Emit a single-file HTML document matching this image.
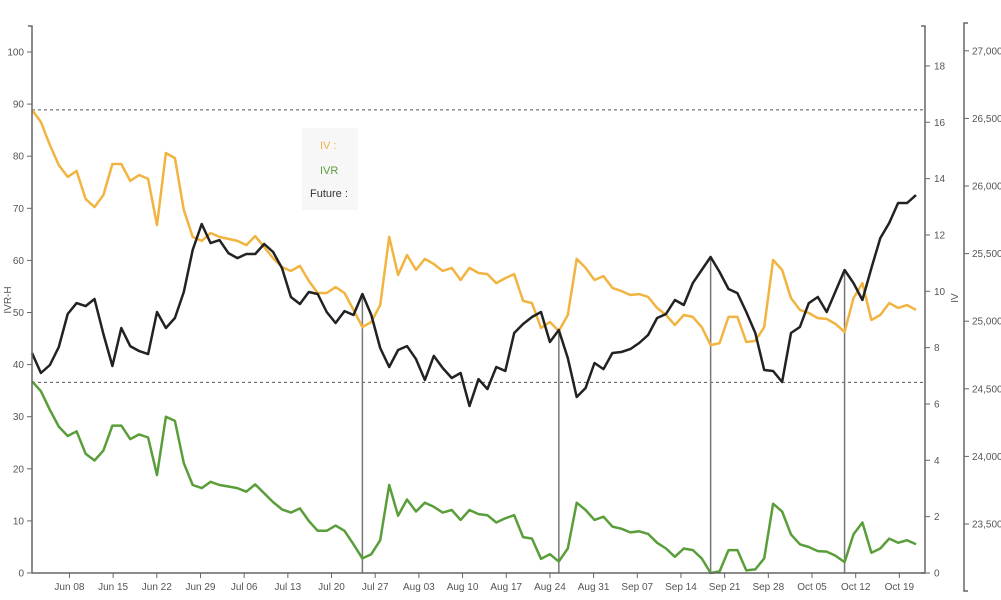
<!DOCTYPE html>
<html><head><meta charset="utf-8">
<style>
html,body{margin:0;padding:0;background:#fff;}
svg{display:block;font-family:"Liberation Sans",sans-serif;}
.tk{font-size:10px;fill:#555;}
</style></head>
<body>
<svg id="chart" width="1001" height="600" viewBox="0 0 1001 600">
<g id="grid"></g>
<g id="series"></g>
<g id="axes"></g>
<g>
<rect x="302" y="128" width="56" height="82" fill="#f7f7f7"/>
<text x="320" y="149" font-size="11" fill="#f0b040">IV :</text>
<text x="320" y="174" font-size="11" fill="#5a9e3a">IVR</text>
<text x="310" y="197" font-size="11" fill="#333">Future :</text>
</g>
<text class="tk" transform="translate(11,300) rotate(-90)" text-anchor="middle" font-size="11">IVR-H</text>
<text class="tk" transform="translate(958,298) rotate(-90)" text-anchor="middle" font-size="11">IV</text>
</svg>
<script>
const ivValues=[16.44,16.01,15.19,14.48,14.06,14.27,13.28,12.99,13.42,14.52,14.52,13.92,14.13,13.99,12.35,14.91,14.73,12.89,11.93,11.79,12.07,11.93,11.86,11.79,11.64,11.96,11.57,11.18,10.86,10.72,10.90,10.37,9.94,9.94,
10.15,9.94,9.34,8.73,8.91,9.51,11.93,10.58,11.29,10.76,11.15,10.97,10.72,10.83,10.40,10.83,10.65,10.61,10.29,10.47,10.61,9.66,9.58,8.70,8.91,8.59,9.16,11.15,10.83,10.40,10.54,10.12,10.01,
9.87,9.90,9.80,9.41,9.16,8.80,9.16,9.09,8.73,8.09,8.16,9.09,9.09,8.20,8.24,8.73,11.11,10.76,9.76,9.34,9.23,9.05,9.02,8.84,8.56,9.76,10.29,8.98,9.16,9.58,9.41,9.51,9.34];
const ivrValues=[36.8,34.9,31.3,28.1,26.3,27.2,22.9,21.6,23.5,28.3,28.3,25.7,26.6,26.0,18.8,30.0,29.2,21.1,16.9,16.3,17.5,16.9,16.6,16.3,15.6,17.0,15.3,13.6,12.2,11.6,12.4,10.0,8.1,8.1,
9.1,8.1,5.5,2.8,3.6,6.3,16.9,11.0,14.1,11.8,13.5,12.7,11.6,12.1,10.2,12.1,11.3,11.1,9.7,10.5,11.1,6.9,6.6,2.7,3.6,2.2,4.7,13.5,12.1,10.2,10.8,8.9,8.5,
7.8,8.0,7.5,5.8,4.7,3.1,4.7,4.4,2.8,0,0.3,4.4,4.4,0.5,0.7,2.8,13.3,11.8,7.4,5.5,5.0,4.2,4.1,3.3,2.1,7.4,9.7,3.9,4.7,6.6,5.8,6.3,5.5];
const futureValues=[24765,24617,24676,24809,25053,25134,25112,25164,24905,24669,24950,24816,24779,24757,25068,24950,25024,25216,25527,25719,25578,25600,25504,25467,25497,25497,25571,25512,25393,25179,25127,25216,25201,25068,
24987,25075,25046,25201,25046,24802,24661,24787,24816,24720,24565,24743,24654,24580,24617,24373,24572,24498,24661,24632,24913,24979,25031,25068,24846,24935,24728,24439,24506,24691,24646,24765,24772,
24794,24839,24898,25024,25053,25157,25120,25282,25379,25475,25364,25238,25208,25068,24913,24639,24632,24550,24913,24957,25134,25179,25068,25223,25379,25282,25157,25393,25615,25726,25874,25874,25933];
const expiryIndices=[37,59,76,91];
const refLevels=[88.9,36.6];
const xTickLabels=["Jun 08","Jun 15","Jun 22","Jun 29","Jul 06","Jul 13","Jul 20","Jul 27","Aug 03","Aug 10","Aug 17","Aug 24","Aug 31","Sep 07","Sep 14","Sep 21","Sep 28","Oct 05","Oct 12","Oct 19"];
const xTickDays=[6,13,20,27,34,41,48,55,62,69,76,83,90,97,104,111,118,125,132,139];
const leftTicks=[0,10,20,30,40,50,60,70,80,90,100];
const ivTicks=[0,2,4,6,8,10,12,14,16,18];
const futTicks=[23500,24000,24500,25000,25500,26000,26500,27000];

const NS="http://www.w3.org/2000/svg";
const X0=32,X1=916,Y0=573;
const xi=i=>X0+i*(X1-X0)/(ivValues.length-1);
const xd=d=>X0+d*6.24;
const yL=v=>Y0-v*5.21;
const yIV=v=>Y0-v*28.17;
const yF=v=>524-(v-23500)*0.1352;
function mk(tag,attrs,parent){const e=document.createElementNS(NS,tag);for(const k in attrs)e.setAttribute(k,attrs[k]);parent.appendChild(e);return e;}
const grid=document.getElementById('grid'),ser=document.getElementById('series'),ax=document.getElementById('axes');

refLevels.forEach((v,i)=>{const l=mk('line',{x1:X0,x2:925,y1:yL(v),y2:yL(v),stroke:'#555','stroke-width':1,'stroke-dasharray':'3,3'},grid);

});

expiryIndices.forEach((idx,i)=>{const l=mk('line',{x1:xi(idx),x2:xi(idx),y1:yF(futureValues[idx]),y2:Y0,stroke:'#777','stroke-width':1.5},grid);

});

function line(vals,yf,color,name){const d=vals.map((v,i)=>(i?'L':'M')+xi(i).toFixed(1)+','+yf(v).toFixed(1)).join('');
const p=mk('path',{d:d,fill:'none',stroke:color,'stroke-width':2.5,'stroke-linejoin':'round'},ser);

}
line(ivValues,yIV,'#f2b441','iv-line');
line(ivrValues,yL,'#5a9e3a','ivr-line');
line(futureValues,yF,'#222','future-line');

// axes
const A='#666';
mk('path',{d:'M'+(X0-4)+',26H'+X0+'V'+Y0,fill:'none',stroke:A,'stroke-width':1.5},ax);
mk('line',{x1:X0,x2:925,y1:Y0,y2:Y0,stroke:A,'stroke-width':1.5},ax);
mk('path',{d:'M921,26H925V'+Y0+'H921',fill:'none',stroke:A,'stroke-width':1.5},ax);
mk('path',{d:'M968,23H964V591H968',fill:'none',stroke:A,'stroke-width':1.5},ax);
leftTicks.forEach(v=>{const y=yL(v);mk('line',{x1:X0-5,x2:X0,y1:y,y2:y,stroke:A},ax);
const t=mk('text',{x:X0-8,y:y+3.5,class:'tk','text-anchor':'end'},ax);t.textContent=v;

});
ivTicks.forEach(v=>{const y=yIV(v);mk('line',{x1:925,x2:930,y1:y,y2:y,stroke:A},ax);
const t=mk('text',{x:934,y:y+3.5,class:'tk'},ax);t.textContent=v;

});
futTicks.forEach(v=>{const y=yF(v);mk('line',{x1:964,x2:969,y1:y,y2:y,stroke:A},ax);
const t=mk('text',{x:972,y:y+3.5,class:'tk'},ax);t.textContent=v.toLocaleString('en-US');

});
xTickDays.forEach((d,i)=>{const x=xd(d);mk('line',{x1:x,x2:x,y1:Y0,y2:Y0+5,stroke:A},ax);
const t=mk('text',{x:x,y:Y0+17,class:'tk','text-anchor':'middle'},ax);t.textContent=xTickLabels[i];

});
</script>
</body></html>
